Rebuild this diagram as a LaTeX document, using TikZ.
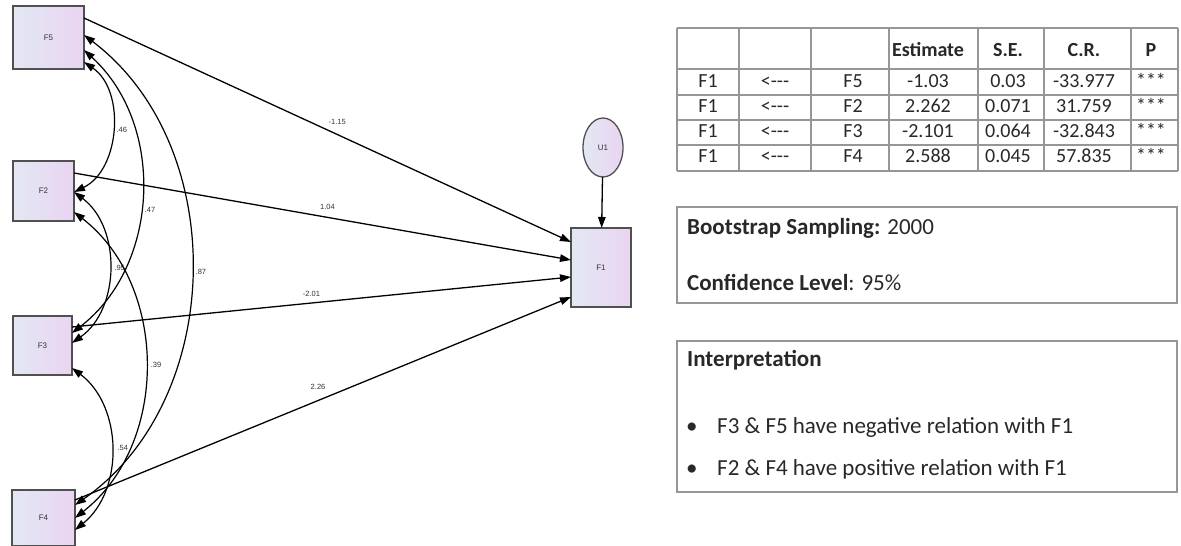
\documentclass[tikz,border=0pt]{standalone}
\usepackage{fontspec}
\setmainfont{Carlito}
\newfontfamily\diagfont{Liberation Sans}
\usetikzlibrary{arrows.meta,shapes.geometric}
\definecolor{boxleft}{RGB}{226,232,242}
\definecolor{boxright}{RGB}{234,212,242}
\definecolor{boxedge}{RGB}{80,80,80}
\definecolor{rulegray}{RGB}{150,150,150}
\definecolor{txt}{RGB}{40,40,40}
\definecolor{lbl}{RGB}{50,50,50}
% a left arrow written with separate hyphens (no dash ligature)
\newcommand{\larrowtxt}{<\kern0pt-\kern0pt-\kern0pt-}
\begin{document}
\begin{tikzpicture}[x=1pt,y=-1pt,
  obs/.style={draw=boxedge, line width=1.3pt, left color=boxleft, right color=boxright,
    inner sep=0pt, outer sep=0pt, font=\diagfont\fontsize{8}{9}\selectfont, text=lbl},
  errnode/.style={obs, ellipse, minimum width=40pt, minimum height=59pt},
  tip/.tip={Triangle[length=11pt,width=7.5pt]},
  regpath/.style={line width=1.3pt, -tip},
  cov/.style={line width=1.2pt, tip-tip},
  coef/.style={font=\diagfont\fontsize{7.5}{8}\selectfont, text=lbl, inner sep=0pt},
  cell/.style={font=\fontsize{20}{24}\selectfont, text=txt, inner sep=0pt, anchor=base},
  head/.style={cell, font=\fontsize{20}{24}\selectfont\bfseries},
  boxtext/.style={font=\fontsize{23}{28}\selectfont, text=txt, inner sep=0pt, anchor=base west},
  rulebox/.style={draw=rulegray, line width=1.3pt}
]
\useasboundingbox (0,0) rectangle (1181,546);

% observed variables
\node[obs, minimum width=71pt, minimum height=63pt] (F5) at (48.5,37.5) {F5};
\node[obs, minimum width=61pt, minimum height=60pt] (F2) at (43.5,191) {F2};
\node[obs, minimum width=59pt, minimum height=59pt] (F3) at (42.5,345.5) {F3};
\node[obs, minimum width=63pt, minimum height=56pt] (F4) at (43.5,518) {F4};
\node[obs, minimum width=60pt, minimum height=79pt] (F1) at (601,267.5) {F1};
\node[errnode] (U1) at (603,147.5) {U1};

% regression paths
\draw[regpath] (U1) -- (F1);
\draw[regpath] ([yshift=19.5pt]F5.east) -- node[coef, pos=0.52, above=9pt] {-1.15} ([yshift=25.5pt]F1.west);
\draw[regpath] ([yshift=18pt]F2.east) -- node[coef, pos=0.51, above=7pt] {1.04} ([yshift=7.5pt]F1.west);
\draw[regpath] ([yshift=18.5pt]F3.east) -- node[coef, pos=0.48, above=6pt] {-2.01} ([yshift=-9.5pt]F1.west);
\draw[regpath] ([yshift=18pt]F4.east) -- node[coef, pos=0.49, above=10pt] {2.26} ([yshift=-29.5pt]F1.west);

% covariances
\draw[cov] ([yshift=-24.5pt]F5.east) to[bend left=60] node[coef, pos=0.5, anchor=west, xshift=4pt] {.46} ([yshift=-1pt]F2.east);
\draw[cov] ([yshift=-12.5pt]F5.east) to[bend left=50] node[coef, pos=0.55, anchor=west, xshift=4pt] {.47} ([yshift=12.5pt]F3.east);
\draw[cov] ([yshift=2.5pt]F5.east) to[bend left=54] node[coef, pos=0.5, anchor=west, xshift=4pt] {.87} ([yshift=13pt]F4.east);
\draw[cov] ([yshift=-1pt]F2.east) to[bend left=54] node[coef, pos=0.5, anchor=west, xshift=5pt] {.95} ([yshift=2.5pt]F3.east);
\draw[cov] ([yshift=-21pt]F2.east) to[bend left=52] node[coef, pos=0.5, anchor=west, xshift=5pt] {.39} ([yshift=0pt]F4.east);
\draw[cov] ([yshift=-22.5pt]F3.east) to[bend left=52] node[coef, pos=0.5, anchor=west, xshift=6pt] {.54} ([yshift=-12pt]F4.east);

% estimates table
\foreach \x in {677,739,811,889,978,1044,1131,1178}
  \draw[rulebox, line width=1.1pt] (\x,28) -- (\x,171);
\foreach \y in {28,69,95,120,145,171}
  \draw[rulebox, line width=1.1pt] (677,\y) -- (1178,\y);
\node[head] (hEst) at (928,56) {Estimate};
\node[head] (hSE) at (1008,56) {S.E.};
\node[head] (hCR) at (1084,56) {C.R.};
\node[head] (hP) at (1151,56) {P};
\foreach \src/\est/\se/\cr/\yb [count=\i] in
  {F5/-1.03/0.03/-33.977/87, F2/2.262/0.071/31.759/112,
   F3/-2.101/0.064/-32.843/137, F4/2.588/0.045/57.835/162}{
  \node[cell] (r\i a) at (708,\yb) {F1};
  \node[cell] (r\i b) at (775,\yb) {\larrowtxt};
  \node[cell] (r\i c) at (853,\yb) {\src};
  \node[cell] (r\i d) at (928,\yb) {\est};
  \node[cell] (r\i e) at (1008,\yb) {\se};
  \node[cell] (r\i f) at (1084,\yb) {\cr};
  \node[cell] (r\i g) at (1151,\yb) {***};
}

% bootstrap settings
\draw[rulebox] (677,207) rectangle (1177,303);
\node[boxtext] (boot) at (687,234) {\textbf{Bootstrap Sampling:} 2000};
\node[boxtext] (conf) at (687,290) {\textbf{Confidence Level}: 95\%};

% interpretation
\draw[rulebox] (677,341) rectangle (1177,492);
\node[boxtext] (interp) at (687,366.5) {\textbf{Interpretation}};
\node[boxtext] (b1) at (686,433) {•};
\node[boxtext] (t1) at (717,433) {F3 \& F5 have negative relation with F1};
\node[boxtext] (b2) at (686,475) {•};
\node[boxtext] (t2) at (717,475) {F2 \& F4 have positive relation with F1};
\end{tikzpicture}
\end{document}
